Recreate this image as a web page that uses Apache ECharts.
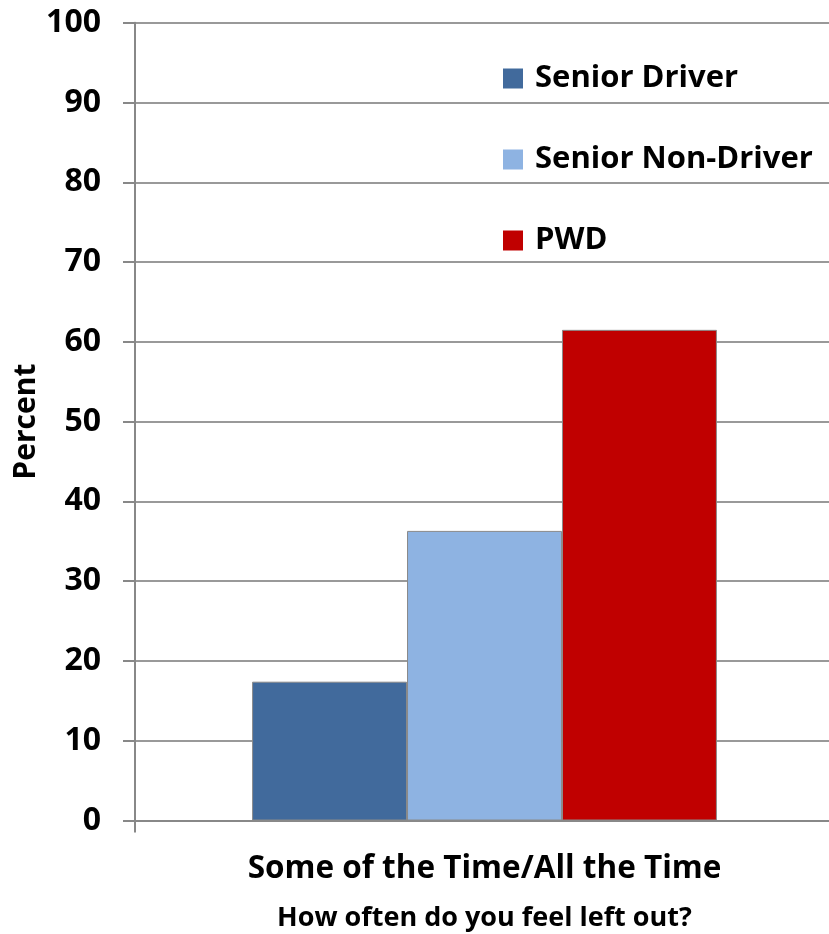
<!DOCTYPE html>
<html><head><meta charset="utf-8">
<script src="https://cdn.jsdelivr.net/npm/echarts@6/dist/echarts.min.js"></script>
<style>html,body{margin:0;padding:0;background:#fff}#c{width:829px;height:934px}</style>
</head><body><div id="c"></div>
<script>
const categories = ['Some of the Time/All the Time'];
const seriesNames = ['Senior Driver', 'Senior Non-Driver', 'PWD'];
const seniorDriver = [17.4];
const seniorNonDriver = [36.3];
const pwd = [61.5];
const colors = ['#416A9C', '#8EB3E2', '#C00000'];
const font = '"Open Sans", sans-serif';
const chart = echarts.init(document.getElementById('c'));
const values = [seniorDriver, seniorNonDriver, pwd];
chart.setOption({
  animation: false,
  textStyle: {fontFamily: font},
  grid: {left: 135, width: 699, top: 22.7, bottom: 113.5, containLabel: false, outerBoundsMode: 'none'},
  legend: {
    orient: 'vertical', left: 498, top: 58, itemGap: 50, itemWidth: 20, itemHeight: 20,
    icon: 'rect', itemStyle: {borderWidth: 0},
    textStyle: {fontFamily: font, fontWeight: 'bold', fontSize: 31, color: '#000', padding: [0, 0, 0, 7]},
    data: seriesNames
  },
  xAxis: {
    type: 'category', data: categories,
    axisLine: {lineStyle: {color: '#888', width: 2}},
    axisTick: {show: true, length: 12, lineStyle: {color: '#888', width: 2}},
    axisLabel: {fontFamily: font, fontWeight: 'bold', fontSize: 31.5, color: '#000', margin: 33},
    name: 'How often do you feel left out?', nameLocation: 'middle', nameGap: 84,
    nameMoveOverlap: false,
    nameTextStyle: {fontFamily: font, fontWeight: 'bold', fontSize: 27, color: '#000'}
  },
  yAxis: {
    type: 'value', min: 0, max: 100, interval: 10,
    axisLine: {show: true, lineStyle: {color: '#888', width: 2}},
    axisTick: {show: true, length: 12, lineStyle: {color: '#888', width: 2}},
    splitLine: {lineStyle: {color: '#999', width: 2}},
    axisLabel: {fontFamily: font, fontWeight: 'bold', fontSize: 32, color: '#000', margin: 34},
    name: 'Percent', nameLocation: 'middle', nameGap: 94, nameRotate: 90,
    nameMoveOverlap: false,
    nameTextStyle: {fontFamily: font, fontWeight: 'bold', fontSize: 30, color: '#000'}
  },
  series: seriesNames.map((n, i) => ({
    name: n, type: 'bar', data: values[i], barGap: '0%', barCategoryGap: '33.5%',
    itemStyle: {color: colors[i], borderColor: '#8a8a8a', borderWidth: 1}
  }))
});
</script></body></html>
